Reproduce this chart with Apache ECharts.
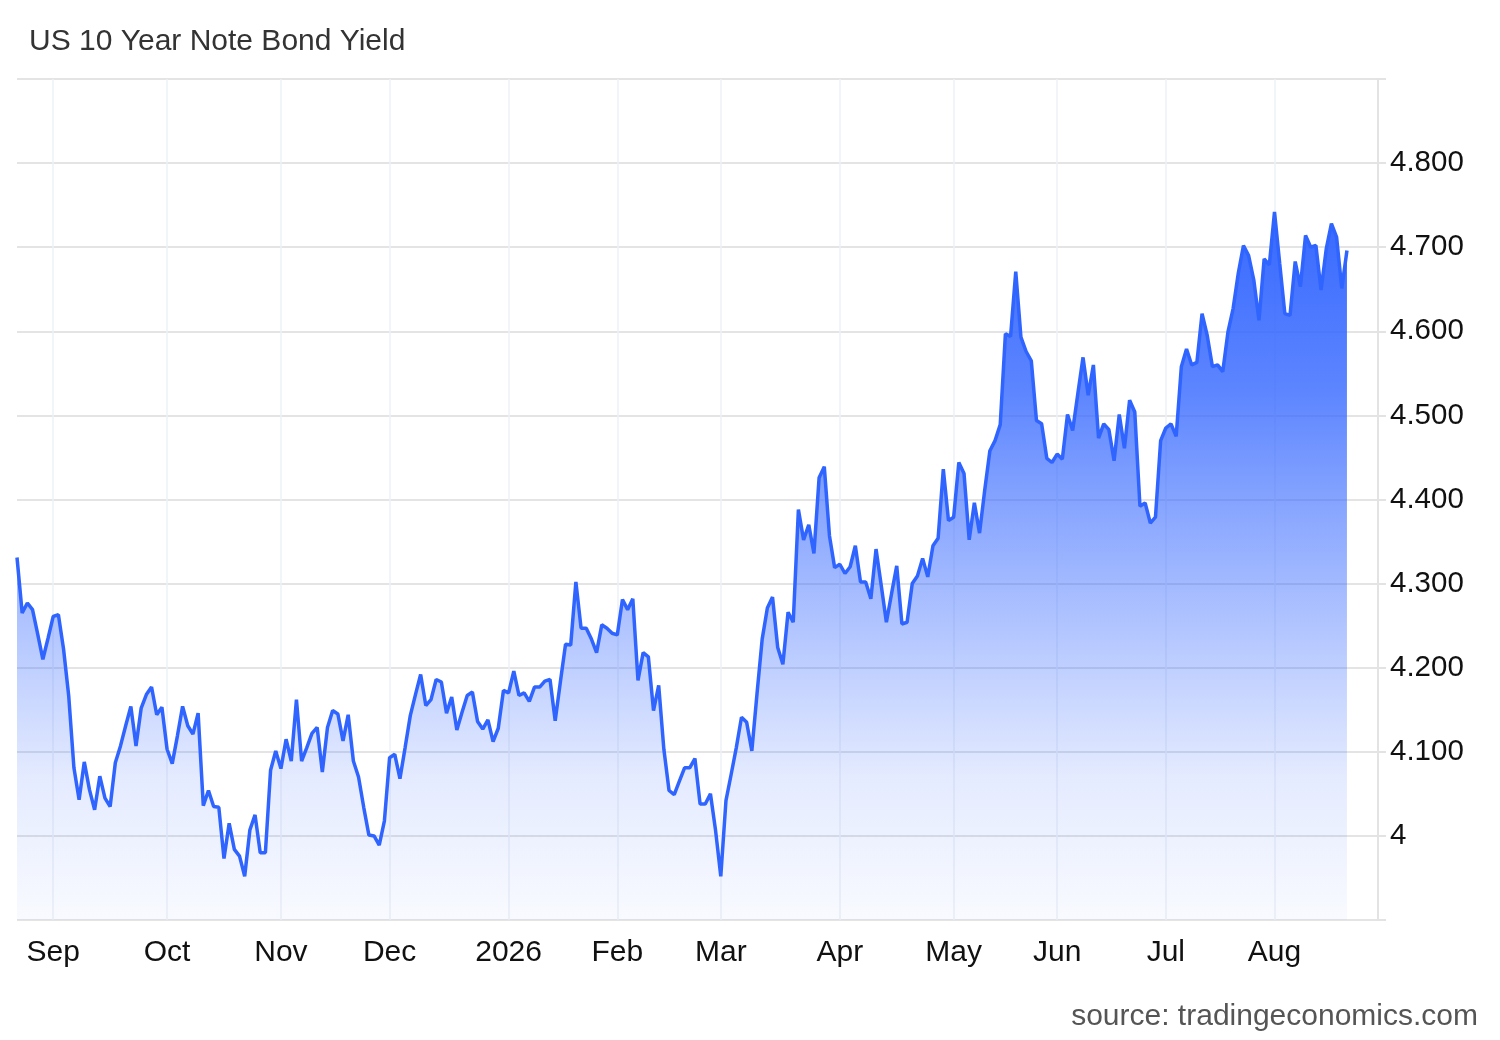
<!DOCTYPE html>
<html>
<head>
<meta charset="utf-8">
<script src="https://cdn.jsdelivr.net/npm/echarts@6/dist/echarts.min.js"></script>
<style>
  html, body { margin: 0; padding: 0; background: #ffffff; }
  #chart { width: 1500px; height: 1040px; }
</style>
</head>
<body>
<div id="chart"></div>
<script>
// Daily yield values (%), left to right
const yields = [
  4.331, 4.265, 4.277, 4.269, 4.240, 4.210, 4.235, 4.261, 4.263, 4.222,
  4.166, 4.081, 4.043, 4.088, 4.055, 4.031, 4.071, 4.045, 4.035, 4.087,
  4.107, 4.131, 4.154, 4.107, 4.152, 4.168, 4.177, 4.144, 4.153, 4.103,
  4.086, 4.119, 4.154, 4.131, 4.121, 4.146, 4.036, 4.054, 4.035, 4.034,
  3.973, 4.015, 3.984, 3.976,
  3.952, 4.007, 4.025, 3.980, 3.980, 4.078, 4.101, 4.080, 4.115, 4.089,
  4.162, 4.089, 4.105, 4.122, 4.129, 4.076, 4.129, 4.149, 4.145, 4.113,
  4.144, 4.089, 4.070, 4.034, 4.001, 4.000, 3.989, 4.018, 4.093, 4.097,
  4.068, 4.105, 4.143, 4.168, 4.192, 4.155, 4.162, 4.186, 4.183, 4.146,
  4.165, 4.126,
  4.147, 4.167, 4.171, 4.136, 4.127, 4.138, 4.112, 4.128, 4.173, 4.170,
  4.196, 4.167, 4.170, 4.160, 4.177, 4.177, 4.184, 4.186, 4.137, 4.183,
  4.228, 4.227, 4.302, 4.247, 4.247, 4.234, 4.218, 4.251, 4.247, 4.241,
  4.239, 4.281, 4.269, 4.282, 4.185, 4.218, 4.213, 4.149, 4.179, 4.103,
  4.054, 4.049, 4.065, 4.081,
  4.081, 4.092, 4.038, 4.038, 4.050, 4.006, 3.952, 4.042, 4.073, 4.105,
  4.141, 4.135, 4.101, 4.169, 4.234, 4.271, 4.284, 4.224, 4.204, 4.266,
  4.254, 4.388, 4.352, 4.370, 4.336, 4.426, 4.439, 4.357, 4.319, 4.323,
  4.312, 4.320, 4.345, 4.302, 4.302, 4.282, 4.341, 4.298, 4.254, 4.288,
  4.321, 4.252, 4.254,
  4.300, 4.309, 4.330, 4.308, 4.345, 4.354, 4.436, 4.375, 4.379, 4.444,
  4.431, 4.352, 4.396, 4.360, 4.411, 4.458, 4.470, 4.489, 4.597, 4.594,
  4.671, 4.593, 4.576, 4.565, 4.494, 4.490, 4.449, 4.444, 4.454, 4.448,
  4.501, 4.482, 4.526, 4.569, 4.524, 4.560, 4.473, 4.490, 4.483, 4.446,
  4.501, 4.461, 4.518, 4.504, 4.392, 4.396, 4.372, 4.379, 4.470, 4.485,
  4.490, 4.475, 4.558, 4.579, 4.560, 4.563, 4.621, 4.595,
  4.558, 4.560, 4.552, 4.599, 4.627, 4.669, 4.702, 4.690, 4.661, 4.613,
  4.686, 4.679, 4.742, 4.681, 4.621, 4.619, 4.683, 4.653, 4.714, 4.700,
  4.702, 4.649, 4.698, 4.728, 4.712, 4.651, 4.696
];

// Month tick labels and the trading-day index where each month starts
const monthLabels = ['Sep', 'Oct', 'Nov', 'Dec', '2026', 'Feb', 'Mar', 'Apr', 'May', 'Jun', 'Jul', 'Aug'];
const monthStart  = [7, 29, 51, 72, 95, 116, 136, 159, 181, 201, 222, 243];

// Empty trading-day slots after the last observation (right-hand padding)
const trailingSlots = 6;

// Y-axis ticks
const yMin = 3.9, yMax = 4.9, yStep = 0.1;

const categories = [];
for (let i = 0; i < yields.length + trailingSlots; i++) categories.push(String(i));
const seriesData = categories.map((c, i) => (i < yields.length ? yields[i] : null));

const FONT = '"Liberation Sans", Arial, sans-serif';
const chart = echarts.init(document.getElementById('chart'));

chart.setOption({
  animation: false,
  backgroundColor: '#ffffff',
  title: {
    text: 'US 10 Year Note Bond Yield',
    left: 24,
    top: 22,
    textStyle: { fontSize: 30, fontWeight: 'normal', color: '#333333', fontFamily: FONT }
  },
  graphic: [{
    type: 'text',
    right: 22,
    top: 1002,
    style: {
      text: 'source: tradingeconomics.com',
      font: '30px ' + FONT,
      fill: '#555555'
    }
  }],
  grid: { left: 17, right: 122, top: 79, bottom: 120, containLabel: false },
  xAxis: {
    type: 'category',
    data: categories,
    boundaryGap: false,
    axisLine: { show: false },
    axisTick: { show: false },
    axisLabel: {
      interval: (idx) => monthStart.indexOf(idx) >= 0,
      formatter: (val, idx) => {
        const k = monthStart.indexOf(Number(val));
        return k >= 0 ? monthLabels[k] : '';
      },
      margin: 18,
      fontSize: 30,
      color: '#111111',
      fontFamily: FONT
    },
    splitLine: {
      show: true,
      interval: (idx) => monthStart.indexOf(idx) >= 0,
      lineStyle: { color: '#edf1f6', width: 1.5 }
    }
  },
  yAxis: {
    type: 'value',
    position: 'right',
    min: yMin,
    max: yMax,
    interval: yStep,
    axisLine: { show: true, lineStyle: { color: '#e3e3e3', width: 2 } },
    axisTick: { show: true, length: 8, lineStyle: { color: '#e3e3e3', width: 2 } },
    axisLabel: {
      margin: 12,
      fontSize: 29.5,
      color: '#111111',
      fontFamily: FONT,
      padding: [7, 0, 0, 0],
      formatter: (v) => {
        if (v < yMin + yStep / 2 || v > yMax - yStep / 2) return '';
        if (Math.abs(v - 4) < 1e-6) return '4';
        return v.toFixed(3);
      }
    },
    splitLine: { show: true, lineStyle: { color: '#e4e4e4', width: 2 } }
  },
  series: [{
    type: 'line',
    data: seriesData,
    showSymbol: false,
    symbol: 'none',
    connectNulls: false,
    lineStyle: { color: '#2f64ff', width: 3.5 },
    areaStyle: {
      opacity: 1,
      color: new echarts.graphic.LinearGradient(0, 0, 0, 1, [
        { offset: 0,    color: 'rgba(51,102,255,0.98)' },
        { offset: 0.25, color: 'rgba(51,102,255,0.80)' },
        { offset: 0.43, color: 'rgba(51,102,255,0.57)' },
        { offset: 0.62, color: 'rgba(51,102,255,0.34)' },
        { offset: 0.80, color: 'rgba(51,102,255,0.13)' },
        { offset: 1,    color: 'rgba(51,102,255,0.03)' }
      ])
    }
  }]
});
</script>
</body>
</html>
